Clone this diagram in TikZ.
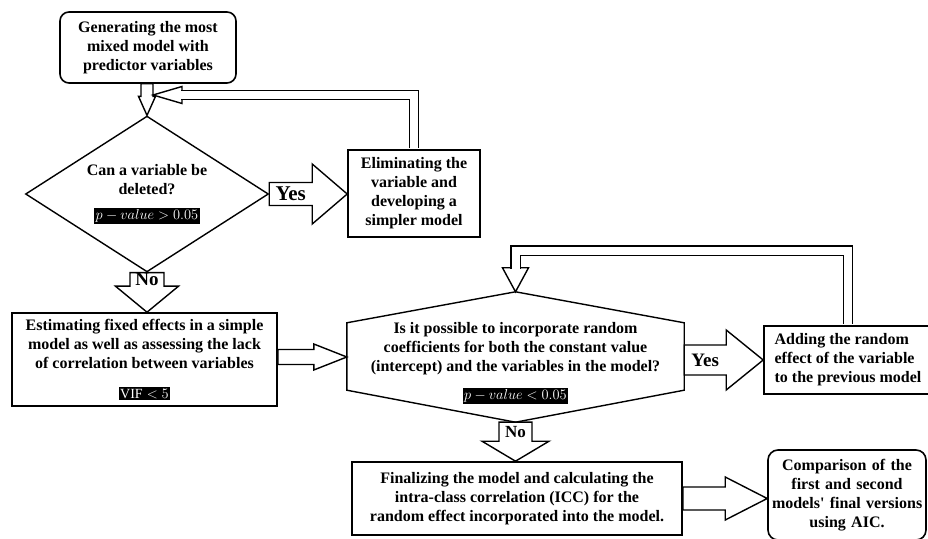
\documentclass[tikz,border=0pt]{standalone}
\usepackage{fontspec}
\setmainfont{Liberation Serif}
\usepackage{tikz}
\usetikzlibrary{calc}
\usetikzlibrary{shapes.geometric}

\newcommand{\bftext}{\fontsize{16}{19}\selectfont\bfseries}
\newcommand{\pvbox}[1]{{\setlength{\fboxsep}{1.5pt}\colorbox{black}{\color{white}\fontsize{14}{15}\selectfont$#1$}}}
% hollow block arrow: name, start, end, shaft half width, head half width, head length, label
\newcommand{\fatarrow}[7]{%
  \coordinate (#1-s) at (#2);
  \coordinate (#1-e) at (#3);
  \coordinate (#1-h) at ($(#1-e)!#6!(#1-s)$);
  \draw[fatline] ($(#1-s)!#4!90:(#1-e)$) -- ($(#1-h)!#4!90:(#1-e)$) -- ($(#1-h)!#5!90:(#1-e)$) -- (#1-e)
    -- ($(#1-h)!#5!-90:(#1-e)$) -- ($(#1-h)!#4!-90:(#1-e)$) -- ($(#1-s)!#4!-90:(#1-e)$) -- cycle;
  \node[armlabel] (#1-lbl) at ($(#1-s)!0.5!(#1-h)$) {#7};
}
% open head of a feedback loop: base, tip, half width
\newcommand{\loophead}[3]{%
  \draw[fatline] ($(#1)!#3!90:(#2)$) -- (#2) -- ($(#1)!#3!-90:(#2)$) -- cycle;
}

\begin{document}
\begin{tikzpicture}[
    x=1pt, y=1pt,
    box/.style={rectangle, draw, line width=1.6pt, align=center, inner sep=2pt, font=\bftext},
    roundbox/.style={box, rounded corners=9pt},
    decision/.style={diamond, draw, line width=1.4pt, align=center, inner sep=-6pt, font=\bftext},
    fatline/.style={draw, fill=white, line width=1.4pt},
    loopline/.style={draw, line width=1.4pt, double=white, double distance=8pt},
    armlabel/.style={inner sep=0pt, font=\bfseries}
]
    \path[use as bounding box, fill=white] (0,0) rectangle (928,538);

    % Elimination stage
    \node[roundbox, minimum width=176pt, minimum height=71pt] (start) at (148,490.5)
        {Generating the most\\mixed model with\\predictor variables};
    \node[decision, minimum width=243pt, minimum height=136pt] (delq) at (147,344)
        {Can a variable be\\deleted?\\[6pt]\pvbox{p-value>0.05}};
    \node[box, minimum width=132pt, minimum height=87pt] (elim) at (414,344.5)
        {Eliminating the\\variable and\\developing a\\simpler model};
    \node[box, minimum width=265pt, minimum height=93pt] (fixed) at (144.5,178.5)
        {Estimating fixed effects in a simple\\model as well as assessing the lack\\of correlation between variables\\[11pt]\pvbox{\mathrm{VIF}<5}};

    % Random effects stage
    \node[minimum width=337pt, minimum height=130pt, align=center, inner sep=0pt, font=\bftext] (randq) at (515.5,181)
        {\rule{0pt}{24pt}Is it possible to incorporate random\\coefficients for both the constant value\\(intercept) and the variables in the model?\\[9pt]\pvbox{p-value<0.05}};
    \draw[line width=1.4pt] (randq.north) -- ([yshift=-31pt]randq.north west) -- ([yshift=32pt]randq.south west)
        -- (randq.south) -- ([yshift=32pt]randq.south east) -- ([yshift=-31pt]randq.north east) -- cycle;
    \node[box, align=left, minimum width=168pt, minimum height=68pt] (addre) at (848,178)
        {Adding the random\\effect of the variable\\to the previous model};
    \node[box, minimum width=330pt, minimum height=73pt] (final) at (517,39.5)
        {Finalizing the model and calculating the\\intra-class correlation (ICC) for the\\random effect incorporated into the model.};
    \node[roundbox, rounded corners=10pt, text width=150pt, inner sep=4pt, minimum height=90pt] (compare) at (847,43)
        {Comparison of the\\first and second\\\mbox{models\textquotesingle{} final versions}\\using AIC.};

    % Block arrows
    \fatarrow{down1}{delq.north |- start.south}{delq.north}{6pt}{8.5pt}{19pt}{}
    \fatarrow{yes1}{delq.east}{elim.west |- delq.east}{11.5pt}{30pt}{35pt}{\fontsize{21}{21}\selectfont Yes}
    \fatarrow{no1}{delq.south}{delq.south |- fixed.north}{17pt}{31.5pt}{26pt}{\fontsize{19}{19}\selectfont No}
    \fatarrow{right1}{fixed.east |- randq.west}{randq.west}{7.5pt}{13pt}{33pt}{}
    \fatarrow{yes2}{randq.east |- addre.west}{addre.west}{15pt}{30pt}{37pt}{\fontsize{19}{19}\selectfont Yes}
    \fatarrow{no2}{randq.south}{randq.south |- final.north}{16.5pt}{33.5pt}{20pt}{\fontsize{17}{17}\selectfont No}
    \fatarrow{right2}{final.east}{compare.west |- final.east}{11.5pt}{21.5pt}{42pt}{}

    % Feedback loops
    \coordinate (tipA) at (153,443);
    \coordinate (baseA) at (182,443);
    \loophead{baseA}{tipA}{8.5pt}
    \draw[loopline] ([yshift=1pt]elim.north) |- ([xshift=-1pt]baseA);

    \coordinate (baseB) at ($(randq.north)+(0,24pt)$);
    \loophead{baseB}{randq.north}{13pt}
    \draw[loopline] ([yshift=1pt]addre.north) -- ++(0,73.5pt) -| ([yshift=-1pt]baseB);
\end{tikzpicture}
\end{document}
